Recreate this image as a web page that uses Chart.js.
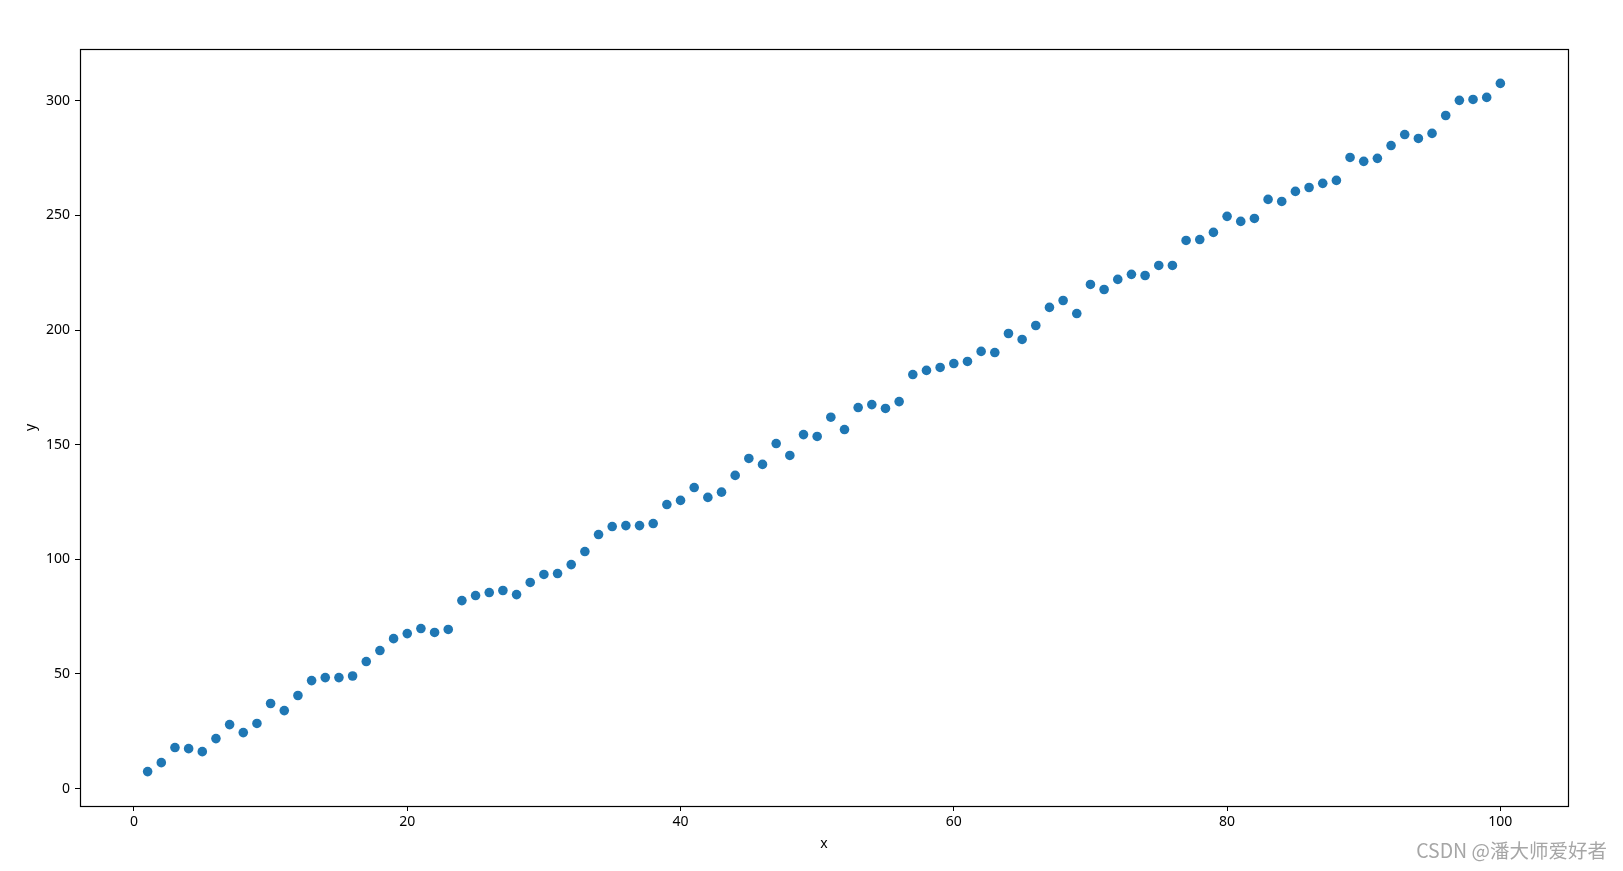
<!DOCTYPE html>
<html>
<head>
<meta charset="utf-8">
<script src="https://cdn.jsdelivr.net/npm/chart.js@4.4.1/dist/chart.umd.min.js"></script>
<style>
    html, body { margin: 0; padding: 0; background: #ffffff; }
    #wrap { position: relative; width: 1623px; height: 871px; }
    #watermark {
        position: absolute;
        right: 16px;
        top: 835px;
        font-family: "Noto Sans CJK SC", "Noto Sans", sans-serif;
        font-size: 19.5px;
        color: #a6a6a6;
        white-space: nowrap;
    }
</style>
</head>
<body>
<div id="wrap">
    <canvas id="scatterChart"></canvas>
    <div id="watermark">CSDN @潘大师爱好者</div>
</div>
<script>
// x positions of the points
const xValues = [
    1, 2, 3, 4, 5, 6, 7, 8, 9, 10,
    11, 12, 13, 14, 15, 16, 17, 18, 19, 20,
    21, 22, 23, 24, 25, 26, 27, 28, 29, 30,
    31, 32, 33, 34, 35, 36, 37, 38, 39, 40,
    41, 42, 43, 44, 45, 46, 47, 48, 49, 50,
    51, 52, 53, 54, 55, 56, 57, 58, 59, 60,
    61, 62, 63, 64, 65, 66, 67, 68, 69, 70,
    71, 72, 73, 74, 75, 76, 77, 78, 79, 80,
    81, 82, 83, 84, 85, 86, 87, 88, 89, 90,
    91, 92, 93, 94, 95, 96, 97, 98, 99, 100
];

// y values
const yValues = [
    7.4, 11.3, 17.9, 17.4, 16.1, 21.8, 27.9, 24.4, 28.4, 37.1,
    34.0, 40.6, 47.1, 48.4, 48.4, 49.1, 55.4, 60.2, 65.4, 67.6,
    69.8, 68.1, 69.4, 82.0, 84.2, 85.5, 86.4, 84.6, 89.9, 93.4,
    93.8, 97.7, 103.4, 110.8, 114.3, 114.7, 114.7, 115.6, 123.9, 125.7,
    131.3, 127.0, 129.3, 136.6, 144.0, 141.4, 150.5, 145.3, 154.4, 153.6,
    162.0, 156.6, 166.2, 167.5, 165.8, 168.8, 180.6, 182.4, 183.7, 185.4,
    186.3, 190.7, 190.2, 198.5, 195.9, 202.0, 209.9, 212.9, 207.2, 219.9,
    217.7, 222.1, 224.3, 223.8, 228.2, 228.2, 239.1, 239.5, 242.6, 249.6,
    247.4, 248.7, 257.0, 256.1, 260.5, 262.2, 264.0, 265.3, 275.3, 273.6,
    274.9, 280.5, 285.3, 283.6, 285.8, 293.6, 300.2, 300.6, 301.5, 307.6
];

const xTickStep = 20;
const yTickStep = 50;
const xLabel = 'x';
const yLabel = 'y';

// matplotlib-style 5% margins
function paddedRange(values) {
    const lo = Math.min(...values);
    const hi = Math.max(...values);
    const pad = (hi - lo) * 0.05;
    return { min: lo - pad, max: hi + pad };
}

const xRange = paddedRange(xValues);
const yRange = paddedRange(yValues);

// frame around the plot area (all four sides)
const framePlugin = {
    id: 'frame',
    afterDraw(chart) {
        const { ctx, chartArea } = chart;
        ctx.save();
        ctx.strokeStyle = '#000000';
        ctx.lineWidth = 1.2;
        ctx.strokeRect(
            Math.round(chartArea.left) + 0.5,
            Math.round(chartArea.top) + 0.5,
            Math.round(chartArea.right - chartArea.left),
            Math.round(chartArea.bottom - chartArea.top)
        );
        ctx.restore();
    }
};

const tickFont = { family: '"Noto Sans", "Open Sans", sans-serif', size: 14 };

const ctx = document.getElementById('scatterChart');
new Chart(ctx, {
    type: 'scatter',
    data: {
        datasets: [{
            data: xValues.map((x, i) => ({ x: x, y: yValues[i] })),
            backgroundColor: '#1f77b4',
            borderColor: '#1f77b4',
            borderWidth: 0,
            pointRadius: 4.8,
            pointHoverRadius: 4.8,
        }]
    },
    options: {
        responsive: true,
        maintainAspectRatio: false,
        animation: false,
        layout: {
            padding: { top: 49, right: 55, left: 0, bottom: 0 }
        },
        plugins: {
            legend: { display: false },
            tooltip: { enabled: false },
        },
        scales: {
            x: {
                type: 'linear',
                min: xRange.min,
                max: xRange.max,
                afterFit(scale) { scale.height = 65; },
                border: { display: false },
                grid: {
                    drawOnChartArea: false,
                    drawTicks: true,
                    tickLength: 5,
                    tickColor: '#000000',
                    color: '#000000',
                },
                ticks: {
                    stepSize: xTickStep,
                    includeBounds: false,
                    color: '#000000',
                    padding: 3,
                    maxRotation: 0,
                    font: tickFont,
                },
                title: {
                    display: true,
                    text: xLabel,
                    color: '#000000',
                    font: tickFont,
                    padding: { top: 0, bottom: 19 },
                }
            },
            y: {
                type: 'linear',
                min: yRange.min,
                max: yRange.max,
                afterFit(scale) { scale.width = 80; },
                border: { display: false },
                grid: {
                    drawOnChartArea: false,
                    drawTicks: true,
                    tickLength: 5,
                    tickColor: '#000000',
                    color: '#000000',
                },
                ticks: {
                    stepSize: yTickStep,
                    includeBounds: false,
                    color: '#000000',
                    padding: 5,
                    font: tickFont,
                },
                title: {
                    display: true,
                    text: yLabel,
                    color: '#000000',
                    font: tickFont,
                    padding: { top: 23, bottom: 0 },
                }
            }
        }
    },
    plugins: [framePlugin]
});
</script>
</body>
</html>
